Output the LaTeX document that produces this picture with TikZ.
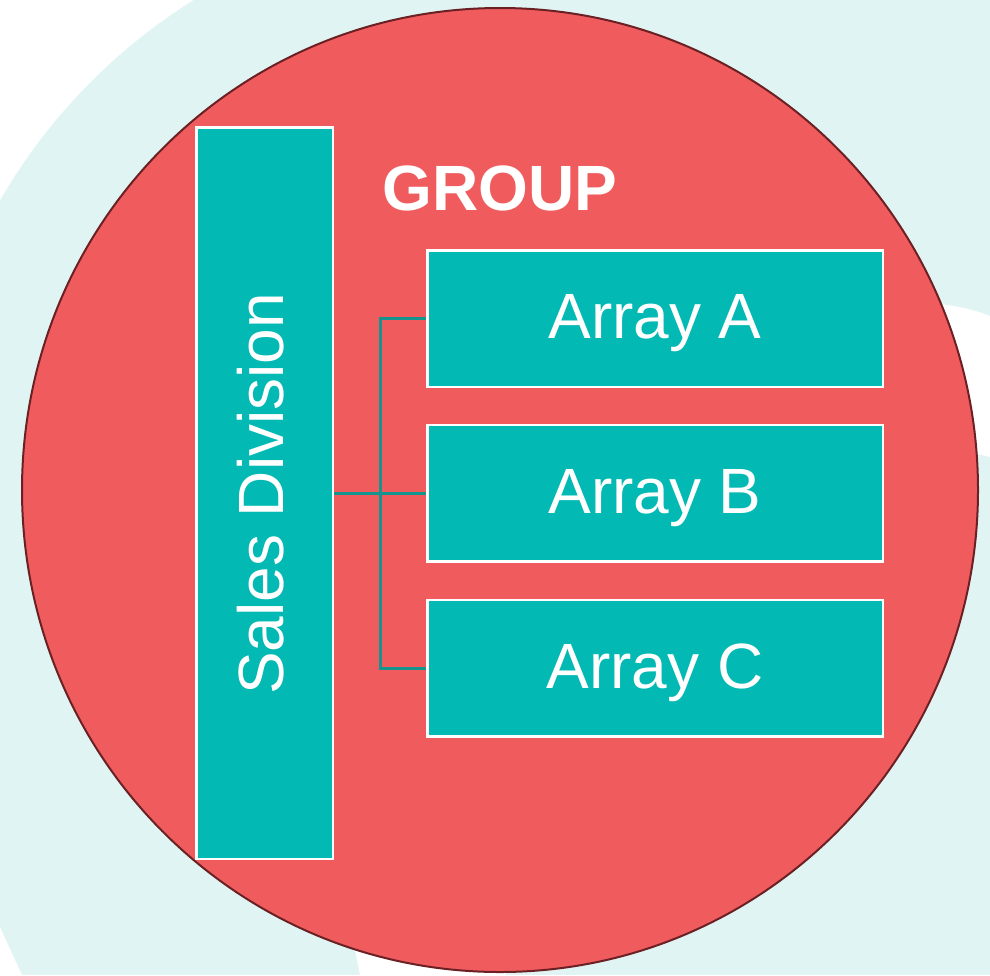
\documentclass[tikz,border=0pt]{standalone}
\usepackage{fontspec}
\setmainfont{Liberation Sans}

\definecolor{ringteal}{HTML}{E0F5F3}
\definecolor{discred}{HTML}{F05C5E}
\definecolor{discedge}{HTML}{6B2024}
\definecolor{boxteal}{HTML}{02B9B4}
\definecolor{linkteal}{HTML}{13948E}

\tikzset{
  unit/.style={draw=white, line width=2.5pt, fill=boxteal, text=white,
    font=\fontsize{64}{72}\selectfont, inner sep=0pt},
  arraybox/.style={unit, minimum width=455.5pt, minimum height=136.5pt,
    text height=40pt, text depth=0pt},
  salesbox/.style={unit, minimum width=136.5pt, minimum height=731.5pt},
  link/.style={draw=linkteal, line width=3pt},
  title/.style={text=white, font=\bfseries\fontsize{64}{72}\selectfont,
    text height=45.8pt, text depth=0pt, inner sep=0pt},
}

\begin{document}
\begin{tikzpicture}[x=1pt, y=-1pt]
  \useasboundingbox (0,0) rectangle (990,975);

  % light ring of the cycle behind the disc, with its open gaps
  \fill[ringteal] (0,0) rectangle (990,975);
  \fill[white] (0,0) -- plot[domain=210.11:237.96, samples=40]
    ({500+578*cos(\x)}, {490+578*sin(\x)}) -- cycle;
  \fill[white] (0,927) .. controls (8,945) and (15,960) .. (22,975) -- (0,975) -- cycle;
  \fill[white] (352,935) -- (360,975) -- (505,975) -- (520,935) -- cycle;
  \fill[white] (930,303) .. controls (955,305) and (975,310) .. (990,316)
    -- (990,457) -- (960,450) -- cycle;

  % the group disc
  \filldraw[fill=discred, draw=discedge, line width=2pt]
    (500,490) ellipse [x radius=478, y radius=482];

  % units
  \node[salesbox] (sales) at (264.5,493) {};
  \node[rotate=90, text=white, font=\fontsize{64}{72}\selectfont, inner sep=0pt]
    (salestext) at (261,494) {Sales Division};

  \node[arraybox] (arrA) at (655,318.5) {Array A};
  \node[arraybox] (arrB) at (655,493) {Array B};
  \node[arraybox] (arrC) at (655,668) {Array C};

  \node[title] (group) at (500,188) {GROUP};

  % connectors
  \draw[link] (sales.east) -- (arrB.west);
  \draw[link] (arrA.west) -- ++(-46,0) |- (arrC.west);
\end{tikzpicture}
\end{document}
